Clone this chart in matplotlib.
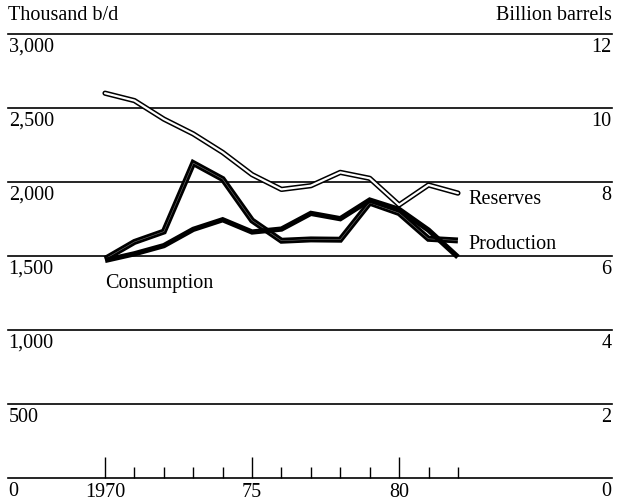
import matplotlib
matplotlib.use("Agg")
import matplotlib.pyplot as plt

years = list(range(1970, 1983))
consumption = [1470, 1515, 1570, 1680, 1745, 1662, 1682, 1788, 1752, 1878, 1815, 1675, 1493]
production = [1480, 1595, 1665, 2128, 2020, 1740, 1603, 1612, 1610, 1860, 1790, 1616, 1605]
reserves = [10.4, 10.2, 9.7, 9.3, 8.8, 8.2, 7.8, 7.9, 8.26, 8.1, 7.38, 7.92, 7.7]

left_ticks = [0, 500, 1000, 1500, 2000, 2500, 3000]
left_labels = ["0", "500", "1,000", "1,500", "2,000", "2,500", "3,000"]
right_ticks = [0, 2, 4, 6, 8, 10, 12]
right_labels = ["0", "2", "4", "6", "8", "10", "12"]
major_years = [1970, 1975, 1980]
major_labels = ["1970", "75", "80"]

FONT = "Liberation Serif"
FS = 14.5

W, H = 617, 502
fig = plt.figure(figsize=(W / 100, H / 100), dpi=100)
ax = fig.add_axes([8 / W, (H - 479) / H, 604 / W, 444 / H])
ax.set_xlim(1966.7, 1987.24)
ax.set_ylim(0, 3000)
for s in ax.spines.values():
    s.set_visible(False)
ax.set_yticks([])

for v in left_ticks:
    ax.axhline(v, color="black", lw=1.2, zorder=1, clip_on=False)

# x ticks inward from baseline
ax.set_xticks(major_years)
ax.set_xticklabels(major_labels, fontfamily=FONT, fontsize=FS)
ax.set_xticks([y for y in years if y not in major_years], minor=True)
ax.tick_params(axis="x", which="major", direction="in", length=15, width=1.0, pad=3, color="black")
ax.tick_params(axis="x", which="minor", direction="in", length=8, width=1.0, color="black")

for v, lab in zip(left_ticks, left_labels):
    ax.annotate(lab, xy=(0, v), xycoords=("axes fraction", "data"), xytext=(0.5, -2),
                textcoords="offset points", ha="left", va="top", fontfamily=FONT, fontsize=FS)

ax2 = ax.twinx()
ax2.set_ylim(0, 12)
ax2.set_yticks([])
for s in ax2.spines.values():
    s.set_visible(False)
for v, lab in zip(right_ticks, right_labels):
    ax2.annotate(lab, xy=(1, v), xycoords=("axes fraction", "data"), xytext=(-0.5, -2),
                 textcoords="offset points", ha="right", va="top", fontfamily=FONT, fontsize=FS)

# Production: thick black with faint white core
ax.plot(years, production, color="black", lw=4.3, solid_joinstyle="miter", solid_capstyle="butt", zorder=3)
ax.plot(years, production, color="white", lw=0.35, alpha=0.5, zorder=3.1)
# Consumption: solid black
ax.plot(years, consumption, color="black", lw=3.8, solid_joinstyle="miter", solid_capstyle="butt", zorder=4)
# Reserves: double line on right scale
ax2.plot(years, reserves, color="black", lw=3.8, solid_capstyle="round", solid_joinstyle="round", zorder=5)
ax2.plot(years, reserves, color="white", lw=1.6, solid_capstyle="round", solid_joinstyle="round", zorder=6)

fig.text(8 / W, 1 - 16 / H, "Thousand b/d", ha="left", va="center", fontfamily=FONT, fontsize=FS)
fig.text(612 / W, 1 - 16 / H, "Billion barrels", ha="right", va="center", fontfamily=FONT, fontsize=FS)

ax.text(1970.0, 1320, "Consumption", ha="left", va="center", fontfamily=FONT, fontsize=FS)
ax.text(1982.35, 1890, "Reserves", ha="left", va="center", fontfamily=FONT, fontsize=FS)
ax.text(1982.35, 1585, "Production", ha="left", va="center", fontfamily=FONT, fontsize=FS)

fig.savefig("out.png", dpi=100)
